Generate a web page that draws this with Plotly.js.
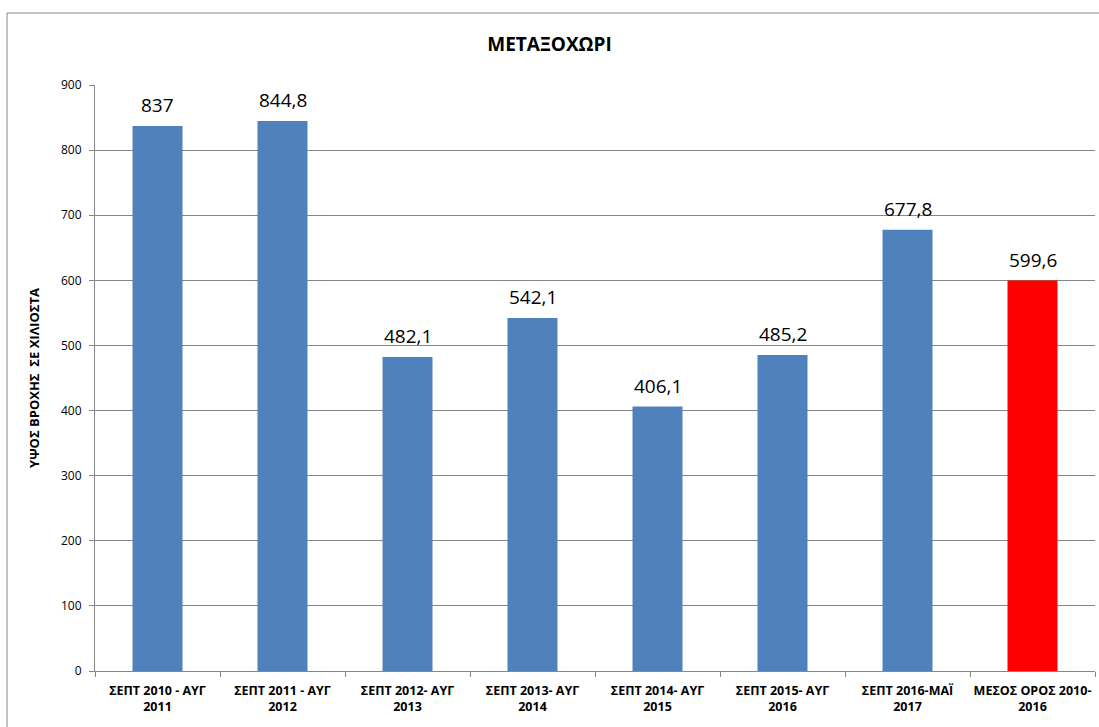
<!DOCTYPE html>
<html><head><meta charset="utf-8">
<script src="https://cdn.plot.ly/plotly-3.0.1.min.js"></script>
<style>html,body{margin:0;padding:0;background:#fff;}#chart{width:1099px;height:727px;}</style>
</head><body><div id="chart"></div>
<script>
const categories = [
  "ΣΕΠΤ 2010 - ΑΥΓ<br>2011",
  "ΣΕΠΤ 2011 - ΑΥΓ<br>2012",
  "ΣΕΠΤ 2012- ΑΥΓ<br>2013",
  "ΣΕΠΤ 2013- ΑΥΓ<br>2014",
  "ΣΕΠΤ 2014- ΑΥΓ<br>2015",
  "ΣΕΠΤ 2015- ΑΥΓ<br>2016",
  "ΣΕΠΤ 2016-ΜΑΪ<br>2017",
  "ΜΕΣΟΣ ΟΡΟΣ 2010-<br>2016"
];
const values = [837, 844.8, 482.1, 542.1, 406.1, 485.2, 677.8, 599.6];
const barColors = ["#4F81BD","#4F81BD","#4F81BD","#4F81BD","#4F81BD","#4F81BD","#4F81BD","#FF0000"];
const yTicks = [0,100,200,300,400,500,600,700,800,900];

const labels = values.map(v => String(v).replace('.', ','));

const trace = {
  type: 'bar', x: categories, y: values,
  marker: {color: barColors},
  hoverinfo: 'none'
};
const annotations = categories.map((c, i) => ({
  x: c, y: values[i], xref: 'x', yref: 'y', text: labels[i],
  showarrow: false, yanchor: 'bottom', yshift: 6,
  font: {family: 'Open Sans, sans-serif', size: 19, color: '#000'}
}));
const L = 95, R = 1095, T = 85, B = 671;
const pw = R - L, ph = B - T;
const layout = {
  width: 1099, height: 727,
  margin: {l: L, r: 1099 - R, t: T, b: 727 - B},
  paper_bgcolor: '#fff', plot_bgcolor: '#fff',
  showlegend: false, bargap: 0.6,
  title: {text: '<b>ΜΕΤΑΞΟΧΩΡΙ</b>', x: 0.5, xanchor: 'center', y: 1 - 44/727, yanchor: 'middle',
    font: {family: 'Open Sans, sans-serif', size: 19, color: '#000'}},
  xaxis: {
    type: 'category', showgrid: false, zeroline: false,
    showline: true, linecolor: '#868686', linewidth: 1,
    ticks: 'outside', tickson: 'boundaries', ticklen: 5, tickcolor: '#868686',
    tickangle: 0, ticklabelstandoff: 8,
    tickfont: {family: 'Open Sans, sans-serif', size: 12.5, color: '#000', weight: 'bold'}
  },
  yaxis: {
    range: [0, 900], tickvals: yTicks, showgrid: true, gridcolor: '#868686', gridwidth: 1,
    zeroline: false, showline: true, linecolor: '#868686', linewidth: 1,
    ticks: 'outside', ticklen: 5, tickcolor: '#868686', ticklabelstandoff: 5,
    tickfont: {family: 'Open Sans, sans-serif', size: 12, color: '#000'},
    title: {text: '<b>ΥΨΟΣ ΒΡΟΧΗΣ  ΣΕ ΧΙΛΙΟΣΤΑ</b>', standoff: 18,
      font: {family: 'Open Sans, sans-serif', size: 13, color: '#000'}}
  },
  annotations: annotations,
  shapes: [{
    type: 'path', xref: 'paper', yref: 'paper', layer: 'below',
    path: `M ${(7-L)/pw} ${(B-740)/ph} L ${(7-L)/pw} ${(B-13)/ph} L ${(1110-L)/pw} ${(B-13)/ph}`,
    line: {color: '#868686', width: 1}
  }]
};
Plotly.newPlot('chart', [trace], layout, {displayModeBar: false, staticPlot: true});
</script></body></html>
